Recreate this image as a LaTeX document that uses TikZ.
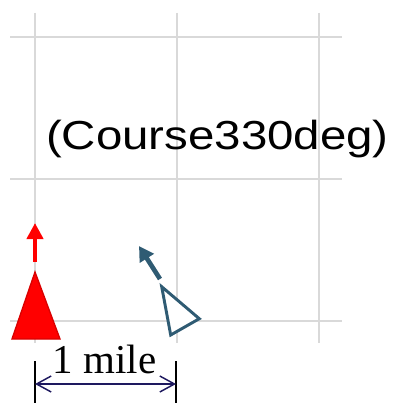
\documentclass[tikz,border=0pt]{standalone}
\usepackage{graphicx}
\usepackage{fontspec}
\setmainfont{Liberation Serif}
\newfontfamily\coursefont{Liberation Sans}
\usetikzlibrary{arrows.meta}
\definecolor{shipblue}{RGB}{47,91,115}
\definecolor{dimnavy}{RGB}{30,25,95}

\begin{document}
\begin{tikzpicture}[x=0.75pt, y=-0.75pt, >=Stealth]
  \useasboundingbox (0,0) rectangle (394,403);
  % grid, 1 mile per cell
  \foreach \x in {35,177,319}
    \draw[gray!30, line width=1.5pt] (\x,13) -- (\x,343);
  \foreach \y in {37,179,321}
    \draw[gray!30, line width=1.5pt] (10,\y) -- (342,\y);
  \node[anchor=base, inner sep=0pt] (course) at (217.5,149)
    {\scalebox{1.17}[1]{\coursefont\fontsize{30.4}{34}\selectfont (Course330deg)}};
  % own ship
  \draw[red!85!black, fill=red, line width=1pt] (35,272) -- (60,339) -- (12,339) -- cycle;
  \coordinate (ownstart) at (35,262);
  \coordinate (ownhead) at (35,223);
  \draw[red, line width=3pt, -{Triangle[length=12pt, width=12pt]}] (ownstart) -- (ownhead);
  % other ship
  \draw[shipblue, fill=white, line width=2.2pt, line join=miter]
    (161.7,286.7) -- (199.3,318.7) -- (170.7,335) -- cycle;
  \coordinate (otherstart) at (160,279);
  \coordinate (otherhead) at (139,246);
  \draw[shipblue, line width=3.5pt, -{Triangle[length=11pt, width=12pt]}] (otherstart) -- (otherhead);
  % scale bar
  \coordinate (dimleft) at (35,384);
  \coordinate (dimright) at (176,384);
  \draw[line width=0.8pt] (35,361) -- (35,403);
  \draw[line width=0.8pt] (176,361) -- (176,403);
  \draw[dimnavy, line width=1.1pt, {Straight Barb[length=11pt, width=12pt]}-{Straight Barb[length=11pt, width=12pt]}]
    (dimleft) -- (dimright);
  \node[anchor=base, inner sep=0pt] (mile) at (104.5,373)
    {\fontsize{30.75}{34}\selectfont 1 mile};
\end{tikzpicture}
\end{document}
